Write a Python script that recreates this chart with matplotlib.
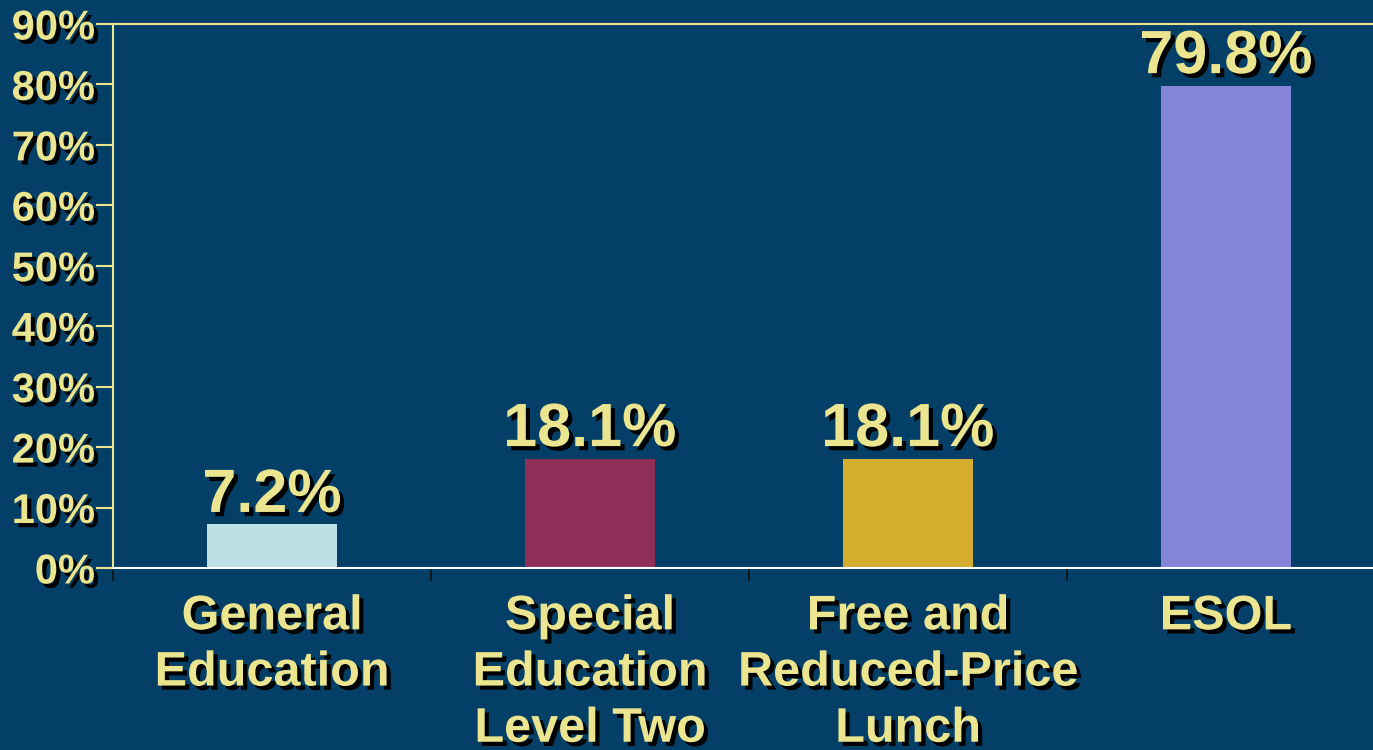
import matplotlib.pyplot as plt
import matplotlib.patheffects as pe
import numpy as np

categories = ['General\nEducation', 'Special\nEducation\nLevel Two',
              'Free and\nReduced-Price\nLunch', 'ESOL']
values = [7.2, 18.1, 18.1, 79.8]
bar_colors = ['#bde0e4', '#8f2f59', '#d4ac2e', '#8485d6']
yticks = np.arange(0, 100, 10)

txt_col = '#ebe58f'
bg = '#043f68'
shadow = [pe.withSimplePatchShadow(offset=(3, -3), shadow_rgbFace='black', alpha=1.0)]

plt.rcParams['font.family'] = ['Liberation Sans', 'DejaVu Sans']
plt.rcParams['font.weight'] = 'bold'

fig = plt.figure(figsize=(13.73, 7.5), dpi=100, facecolor=bg)
ax = fig.add_axes([0.0823, 0.2427, 0.9264, 0.7253])
ax.set_facecolor(bg)

x = np.arange(len(values))
ax.bar(x, values, width=0.41, color=bar_colors, zorder=2)

for xi, v in zip(x, values):
    ax.annotate(f'{v}%', (xi, v), xytext=(0, 9), textcoords='offset points',
                ha='center', va='baseline', fontsize=44, fontweight='bold',
                color=txt_col, path_effects=shadow)

ax.set_xlim(-0.5, 3.5)
ax.set_ylim(0, 90)
ax.set_yticks(yticks)
ax.set_yticklabels([f'{t}%' for t in yticks])
ax.tick_params(axis='y', colors=txt_col, length=12, width=1.5, pad=1,
               labelsize=30)
for lab in ax.get_yticklabels():
    lab.set_path_effects(shadow)
    lab.set_fontweight('bold')

# category labels on the bars, small dark ticks between them
ax.set_xticks(x)
ax.set_xticklabels(categories, linespacing=1.32, fontsize=35,
                   fontweight='bold', color=txt_col, va='top')
ax.tick_params(axis='x', length=0, pad=19)
for lab in ax.get_xticklabels():
    lab.set_path_effects(shadow)
ax.set_xticks(np.arange(-0.5, 3.6, 1), minor=True)
ax.tick_params(axis='x', which='minor', length=9, width=1.2, color='#111111')

ax.spines['left'].set_color(txt_col)
ax.spines['left'].set_linewidth(1.5)
ax.spines['top'].set_color(txt_col)
ax.spines['top'].set_linewidth(1.5)
ax.spines['bottom'].set_color('white')
ax.spines['bottom'].set_linewidth(1.5)
ax.spines['right'].set_visible(False)

fig.savefig('out.png', dpi=100, facecolor=bg)
